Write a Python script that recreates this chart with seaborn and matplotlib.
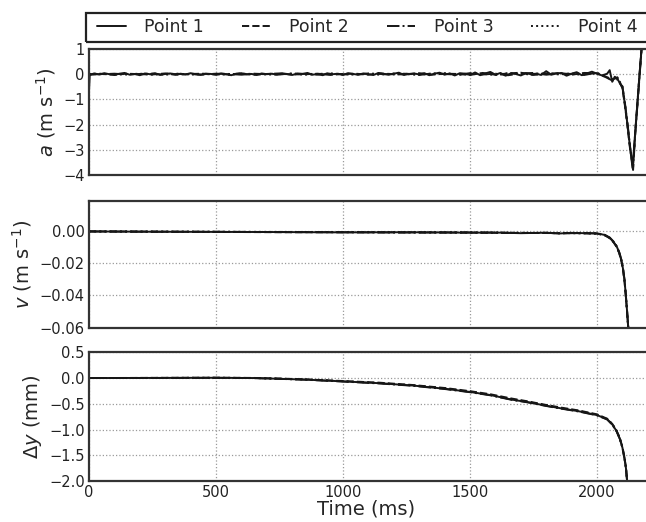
import numpy as np
import pandas as pd
import matplotlib
matplotlib.use('Agg')
import matplotlib.pyplot as plt
from matplotlib.patches import Rectangle
import seaborn as sns

sns.set_theme(style='white')
plt.rcParams['font.family'] = ['DejaVu Sans']
plt.rcParams['mathtext.fontset'] = 'dejavusans'

#point labels and line styles
point_names = ['Point 1', 'Point 2', 'Point 3', 'Point 4']
point_styles = ['-', '--', '-.', ':']

#acceleration (m/s^2), point 1 sampled every 20 ms up to 2000 ms, then the failure tail
t_acc1 = [0, 3] + list(range(20, 2001, 20)) + [2020, 2040, 2050, 2060, 2070, 2080, 2090, 2100,
                                                2110, 2120, 2130, 2140, 2150, 2160, 2170, 2180]
acc1 = [-0.65, -0.03, 0.03, -0.01, 0.04, 0.00, -0.03, 0.02, 0.05, -0.02,
        0.01, -0.04, 0.03, 0.00, 0.04, -0.03, 0.01, 0.03, -0.02, 0.02,
        -0.01, 0.04, 0.00, -0.03, 0.02, 0.01, -0.02, 0.03, 0.00, -0.04,
        0.02, 0.04, -0.01, 0.01, -0.03, 0.03, 0.00, 0.02, -0.02, 0.04,
        0.00, -0.03, 0.02, 0.01, 0.05, -0.02, 0.01, -0.04, 0.03, 0.00,
        0.02, -0.03, 0.04, 0.01, -0.02, 0.03, 0.00, -0.03, 0.05, 0.01,
        -0.02, 0.02, 0.06, -0.03, 0.01, 0.03, -0.01, 0.04, -0.04, 0.02,
        0.06, -0.02, 0.03, -0.05, 0.04, 0.02, -0.03, 0.07, -0.04, 0.03,
        0.09, -0.02, 0.05, -0.06, 0.03, 0.01, -0.05, 0.04, 0.00, 0.02,
        -0.03, 0.12, -0.02, 0.03, 0.05, -0.06, 0.02, 0.08, -0.04, 0.03,
        0.10, 0.02,
        -0.05, 0.02, 0.16, -0.30, -0.10, -0.18, -0.35, -0.50, -1.20,
        -2.00, -2.90, -3.72, -2.40, -1.05, 0.30, 1.60]

#points 2-4 sampled every 50 ms, then the tail
t_acc234 = list(range(0, 2001, 50)) + [2060, 2080, 2100, 2110, 2120, 2130, 2142, 2150, 2160, 2170, 2180]
acc2 = [-0.02, 0.01, -0.02, 0.02, 0.00, -0.01, 0.03, -0.02, 0.01, 0.02,
        -0.01, 0.00, 0.02, -0.02, 0.01, 0.03, -0.01, 0.00, 0.02, -0.03,
        0.01, 0.02, -0.02, 0.03, 0.00, -0.01, 0.04, -0.02, 0.02, 0.01,
        -0.03, 0.05, -0.02, 0.03, 0.06, -0.03, 0.02, 0.04, -0.02, 0.05,
        0.04,
        -0.20, -0.15, -0.55, -1.25, -2.05, -2.95, -3.65, -2.35, -1.00, 0.35, 1.65]
acc3 = [0.00, 0.00, 0.02, -0.01, 0.01, 0.02, -0.02, 0.01, 0.00, -0.01,
        0.02, 0.01, -0.02, 0.02, 0.00, -0.01, 0.03, 0.01, -0.02, 0.02,
        0.00, -0.02, 0.03, 0.01, -0.01, 0.02, -0.03, 0.03, 0.01, -0.02,
        0.04, -0.01, 0.02, -0.04, 0.03, 0.05, -0.02, 0.03, 0.01, -0.03,
        0.06,
        -0.25, -0.20, -0.50, -1.15, -1.95, -2.85, -3.80, -2.45, -1.10, 0.25, 1.55]
acc4 = [0.01, 0.02, -0.01, 0.00, 0.02, -0.02, 0.01, 0.02, -0.01, 0.00,
        0.01, -0.02, 0.02, 0.01, -0.01, 0.00, 0.02, -0.02, 0.01, 0.03,
        -0.01, 0.01, 0.00, -0.02, 0.03, 0.01, -0.02, 0.02, 0.04, -0.03,
        0.02, 0.01, -0.03, 0.04, 0.02, -0.02, 0.05, -0.01, 0.03, 0.02,
        0.03,
        -0.22, -0.12, -0.48, -1.18, -2.02, -2.92, -3.70, -2.38, -1.02, 0.32, 1.62]

#velocity (m/s)
t_vel = [0, 250, 500, 750, 1000, 1250, 1500, 1600, 1700, 1800, 1850, 1900, 1950, 2000,
         2030, 2050, 2065, 2078, 2088, 2096, 2102, 2108, 2113, 2118, 2123, 2130]
vel1 = [0.0, -0.0002, -0.0003, -0.0004, -0.0006, -0.0005, -0.0008, -0.0007, -0.0011,
        -0.0008, -0.0013, -0.0009, -0.0011, -0.0012, -0.0022, -0.0040, -0.0065, -0.0095,
        -0.0135, -0.0180, -0.0230, -0.0300, -0.0390, -0.0490, -0.0600, -0.0760]
vel2 = [0.0, -0.0001, -0.0003, -0.0005, -0.0005, -0.0006, -0.0007, -0.0009, -0.0009,
        -0.0010, -0.0011, -0.0010, -0.0012, -0.0014, -0.0024, -0.0042, -0.0068, -0.0098,
        -0.0138, -0.0184, -0.0234, -0.0304, -0.0394, -0.0494, -0.0604, -0.0764]
vel3 = [0.0, -0.0002, -0.0002, -0.0004, -0.0005, -0.0007, -0.0006, -0.0008, -0.0010,
        -0.0009, -0.0012, -0.0011, -0.0010, -0.0013, -0.0021, -0.0038, -0.0063, -0.0093,
        -0.0132, -0.0177, -0.0227, -0.0297, -0.0387, -0.0487, -0.0597, -0.0757]
vel4 = [0.0, -0.0001, -0.0002, -0.0003, -0.0004, -0.0005, -0.0007, -0.0008, -0.0009,
        -0.0010, -0.0010, -0.0011, -0.0012, -0.0013, -0.0023, -0.0041, -0.0066, -0.0096,
        -0.0136, -0.0182, -0.0232, -0.0302, -0.0392, -0.0492, -0.0602, -0.0762]

#displacement (mm)
t_disp = [0, 250, 500, 650, 750, 850, 1000, 1143, 1274, 1404, 1500, 1580, 1666, 1730,
          1797, 1860, 1928, 2000, 2040, 2060, 2077, 2090, 2100, 2108, 2114, 2118, 2123]
disp1 = [0.0, 0.002, 0.005, 0.0, -0.015, -0.03, -0.065, -0.10, -0.145, -0.21, -0.27,
         -0.33, -0.42, -0.47, -0.535, -0.59, -0.645, -0.72, -0.80, -0.90, -1.03, -1.18,
         -1.35, -1.55, -1.75, -1.97, -2.30]
disp2 = [0.0, 0.003, 0.006, 0.002, -0.010, -0.025, -0.058, -0.09, -0.135, -0.195, -0.255,
         -0.315, -0.40, -0.455, -0.52, -0.575, -0.63, -0.705, -0.79, -0.89, -1.02, -1.17,
         -1.34, -1.54, -1.74, -1.96, -2.29]
disp3 = [0.0, 0.001, 0.004, -0.001, -0.016, -0.032, -0.068, -0.105, -0.15, -0.215, -0.275,
         -0.335, -0.425, -0.475, -0.54, -0.595, -0.65, -0.725, -0.805, -0.905, -1.035, -1.185,
         -1.355, -1.555, -1.755, -1.975, -2.31]
disp4 = [0.0, 0.002, 0.004, 0.001, -0.013, -0.028, -0.062, -0.098, -0.142, -0.205, -0.265,
         -0.325, -0.415, -0.465, -0.53, -0.585, -0.64, -0.715, -0.795, -0.895, -1.025, -1.175,
         -1.345, -1.545, -1.745, -1.965, -2.30]

acc_series = [(t_acc1, acc1), (t_acc234, acc2), (t_acc234, acc3), (t_acc234, acc4)]
vel_series = [(t_vel, vel1), (t_vel, vel2), (t_vel, vel3), (t_vel, vel4)]
disp_series = [(t_disp, disp1), (t_disp, disp2), (t_disp, disp3), (t_disp, disp4)]

fig = plt.figure(figsize=(6.46, 5.22), dpi=100)
W, H = 646, 522
left = 89 / W
width = 635 / W   # axes run past the right edge of the picture, as in the original
ax1 = fig.add_axes([left, 1 - 175 / H, width, 126 / H])
ax2 = fig.add_axes([left, 1 - 327.5 / H, width, 126.5 / H])
ax3 = fig.add_axes([left, 1 - 481 / H, width, 128.7 / H])

panels = [
    (ax1, acc_series, (-4, 1), [1, 0, -1, -2, -3, -4], r'$a$ (m s$^{-1}$)', '%d'),
    (ax2, vel_series, (-0.06, 0.019), [0.0, -0.02, -0.04, -0.06], r'$v$ (m s$^{-1}$)', '%.2f'),
    (ax3, disp_series, (-2.0, 0.5), [0.5, 0.0, -0.5, -1.0, -1.5, -2.0], r'$\Delta y$ (mm)', '%.1f'),
]

for ax, series, ylim, yticks, ylabel, fmt in panels:
    for (t, vals), name, ls in zip(series, point_names, point_styles):
        df = pd.DataFrame({'t': t, 'val': vals})
        sns.lineplot(data=df, x='t', y='val', ax=ax, color='#161616', linestyle=ls,
                     linewidth=1.4, label=name, legend=False)
    ax.set_xlim(0, 2500)
    ax.set_ylim(*ylim)
    ax.set_xticks([0, 500, 1000, 1500, 2000])
    ax.set_yticks(yticks)
    ax.set_yticklabels([(fmt % v).replace('-', '\u2212') for v in yticks])
    ax.set_ylabel(ylabel, fontsize=14, labelpad=4)
    ax.set_xlabel('')
    ax.grid(True, linestyle=':', color='#9a9a9a', linewidth=0.9)
    ax.tick_params(direction='in', length=4, labelsize=10.5, colors='#222222', pad=3)
    for sp in ax.spines.values():
        sp.set_color('#333333')
        sp.set_linewidth(1.6)

ax1.tick_params(labelbottom=False)
ax2.tick_params(labelbottom=False)
ax3.set_xlabel('Time (ms)', fontsize=14)
ax3.xaxis.set_label_coords((366 - 89) / 635, -0.145)

#legend frame runs off the right edge like in the original
fig.add_artist(Rectangle((86 / W, 1 - 41.7 / H), 0.95, 28.4 / H, transform=fig.transFigure,
                         fill=False, edgecolor='#222222', linewidth=1.6))
handles, labels = ax1.get_legend_handles_labels()
fig.legend(handles, labels, loc='center left', bbox_to_anchor=(97 / W, 1 - 27.5 / H),
           ncol=4, fontsize=12.5, frameon=False, borderaxespad=0, borderpad=0,
           handlelength=1.65, handletextpad=1.05, columnspacing=2.2)

fig.savefig('out.png', dpi=100)
